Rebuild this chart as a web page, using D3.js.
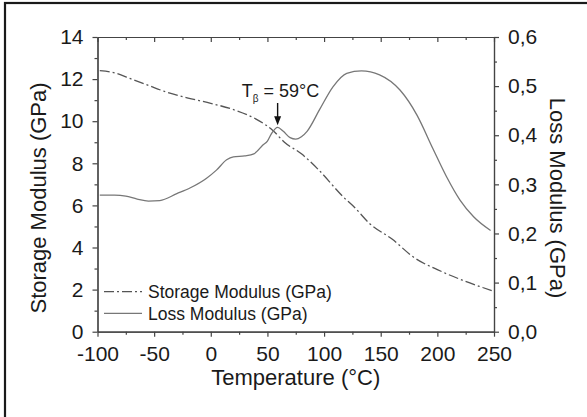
<!DOCTYPE html>
<html lang="en">
<head>
<meta charset="utf-8">
<title>Storage and loss modulus</title>
<script src="https://d3js.org/d3.v7.min.js"></script>
<style>
body { margin: 0; background: #fff; }
text { font-family: "Liberation Sans", Arial, sans-serif; fill: #1a1a1a; }
.axis path, .axis line { stroke: #444; stroke-width: 1.2; }
.axis text { font-size: 21px; }
</style>
</head>
<body>
<div id="chart"></div>
<script>

var w = 587;
var h = 417;

// storage modulus (GPa), left axis
var storageT   = [-98, -85, -70, -55, -40, -20, 0, 20, 40, 55, 65, 80, 95, 117, 127, 140, 160, 180, 200, 222, 240, 248];
var storageGPa = [12.4, 12.3, 12.0, 11.7, 11.4, 11.1, 10.85, 10.55, 10.1, 9.55, 9.0, 8.45, 7.7, 6.4, 5.9, 5.15, 4.4, 3.5, 2.95, 2.45, 2.1, 1.95];

// loss modulus (GPa), right axis
var lossT   = [-98, -85, -75, -65, -55, -45, -30, -18, -4, 5, 14, 20, 30, 38, 46, 50, 54, 59, 64, 70, 75, 80, 85, 96, 108, 120, 133, 149, 167, 182, 196, 208, 220, 232, 247];
var lossGPa = [0.278, 0.278, 0.276, 0.27, 0.266, 0.267, 0.281, 0.293, 0.312, 0.329, 0.35, 0.356, 0.358, 0.362, 0.38, 0.388, 0.405, 0.416, 0.408, 0.395, 0.392, 0.397, 0.408, 0.452, 0.499, 0.526, 0.531, 0.523, 0.492, 0.441, 0.373, 0.316, 0.268, 0.234, 0.206];

var xTicks = [-100, -50, 0, 50, 100, 150, 200, 250];
var xMinor = [-75, -25, 25, 75, 125, 175, 225];
var leftTicks = [0, 2, 4, 6, 8, 10, 12, 14];
var leftMinor = [1, 3, 5, 7, 9, 11, 13];
var rightTicks = [0, 0.1, 0.2, 0.3, 0.4, 0.5, 0.6];
var rightMinor = [0.05, 0.15, 0.25, 0.35, 0.45, 0.55];

var seriesNames = ["Storage Modulus (GPa)", "Loss Modulus (GPa)"];
var peakT = 59;

var plot = {left: 97.5, right: 494, top: 37, bottom: 331.7};

var xScale = d3.scaleLinear().domain([-100, 250]).range([plot.left, plot.right]);
var yLeft = d3.scaleLinear().domain([0, 14]).range([plot.bottom, plot.top]);
var yRight = d3.scaleLinear().domain([0, 0.6]).range([plot.bottom, plot.top]);

var svg = d3.select("#chart").append("svg")
    .attr("width", w)
    .attr("height", h);

// outer frame (cropped on right/bottom)
svg.append("rect")
    .attr("x", 5).attr("y", 3)
    .attr("width", 800).attr("height", 600)
    .attr("fill", "none")
    .attr("stroke", "#1a1a1a")
    .attr("stroke-width", 2.2);

// plain hyphen for negatives, comma decimals on the right
var intFmt = function(d){ return String(d); };
var commaFmt = function(d){ return d3.format(".1f")(d).replace(".", ","); };

// bottom axis
svg.append("g").attr("class", "axis")
    .attr("transform", "translate(0," + plot.bottom + ")")
    .call(d3.axisBottom(xScale).tickValues(xTicks).tickSize(5).tickPadding(9).tickFormat(intFmt).tickSizeOuter(0));
svg.append("g").attr("class", "axis")
    .attr("transform", "translate(0," + plot.bottom + ")")
    .call(d3.axisBottom(xScale).tickValues(xMinor).tickSize(3).tickFormat("").tickSizeOuter(0));

// top axis, ticks pointing in
svg.append("g").attr("class", "axis")
    .attr("transform", "translate(0," + plot.top + ")")
    .call(d3.axisTop(xScale).tickValues(xTicks).tickSize(-5).tickFormat("").tickSizeOuter(0));
svg.append("g").attr("class", "axis")
    .attr("transform", "translate(0," + plot.top + ")")
    .call(d3.axisTop(xScale).tickValues(xMinor).tickSize(-3).tickFormat("").tickSizeOuter(0));

// left axis
svg.append("g").attr("class", "axis")
    .attr("transform", "translate(" + plot.left + ",0)")
    .call(d3.axisLeft(yLeft).tickValues(leftTicks).tickSize(5).tickPadding(9).tickFormat(intFmt).tickSizeOuter(0));
svg.append("g").attr("class", "axis")
    .attr("transform", "translate(" + plot.left + ",0)")
    .call(d3.axisLeft(yLeft).tickValues(leftMinor).tickSize(3).tickFormat("").tickSizeOuter(0));

// right axis
svg.append("g").attr("class", "axis")
    .attr("transform", "translate(" + plot.right + ",0)")
    .call(d3.axisRight(yRight).tickValues(rightTicks).tickSize(5).tickPadding(9).tickFormat(commaFmt).tickSizeOuter(0));
svg.append("g").attr("class", "axis")
    .attr("transform", "translate(" + plot.right + ",0)")
    .call(d3.axisRight(yRight).tickValues(rightMinor).tickSize(3).tickFormat("").tickSizeOuter(0));

// axis titles
svg.append("text")
    .attr("x", (plot.left + plot.right) / 2)
    .attr("y", 385)
    .attr("text-anchor", "middle")
    .style("font-size", "22px")
    .text("Temperature (°C)");

svg.append("text")
    .attr("transform", "translate(46,198) rotate(-90)")
    .attr("text-anchor", "middle")
    .style("font-size", "22px")
    .text("Storage Modulus (GPa)");

svg.append("text")
    .attr("transform", "translate(550,198) rotate(90)")
    .attr("text-anchor", "middle")
    .style("font-size", "22px")
    .text("Loss Modulus (GPa)");

// curves
var storageData = storageT.map(function(t, i){ return {t: t, v: storageGPa[i]}; });
var lossData = lossT.map(function(t, i){ return {t: t, v: lossGPa[i]}; });

var storageLine = d3.line()
    .x(function(d){ return xScale(d.t); })
    .y(function(d){ return yLeft(d.v); })
    .curve(d3.curveMonotoneX);

var lossLine = d3.line()
    .x(function(d){ return xScale(d.t); })
    .y(function(d){ return yRight(d.v); })
    .curve(d3.curveMonotoneX);

svg.append("path")
    .datum(storageData)
    .attr("d", storageLine)
    .attr("fill", "none")
    .attr("stroke", "#555")
    .attr("stroke-width", 1.3)
    .attr("stroke-dasharray", "10,3,2,3");

svg.append("path")
    .datum(lossData)
    .attr("d", lossLine)
    .attr("fill", "none")
    .attr("stroke", "#777")
    .attr("stroke-width", 1.3);

// annotation T_beta
var ann = svg.append("text")
    .attr("x", 241.7)
    .attr("y", 96.5)
    .style("font-size", "18px");
ann.append("tspan").text("T");
ann.append("tspan").attr("dy", 5).style("font-size", "10px").text("β");
ann.append("tspan").attr("dy", -5).text(" = 59°C");

var peakY = yRight(0.416);
svg.append("line")
    .attr("x1", xScale(peakT)).attr("x2", xScale(peakT))
    .attr("y1", 103).attr("y2", peakY - 8)
    .attr("stroke", "#111").attr("stroke-width", 1.4);
svg.append("path")
    .attr("d", "M" + (xScale(peakT) - 3.5) + "," + (peakY - 11) +
               "L" + (xScale(peakT) + 3.5) + "," + (peakY - 11) +
               "L" + xScale(peakT) + "," + (peakY - 2) + "Z")
    .attr("fill", "#111");

// legend
var legendRows = [{y: 291.7, dash: "10,3,2,3", color: "#555"}, {y: 313.3, dash: null, color: "#777"}];
legendRows.forEach(function(r, i){
    svg.append("line")
        .attr("x1", 104).attr("x2", 142)
        .attr("y1", r.y).attr("y2", r.y)
        .attr("stroke", r.color)
        .attr("stroke-width", 1.3)
        .attr("stroke-dasharray", r.dash);
    svg.append("text")
        .attr("x", 148)
        .attr("y", r.y + 6.3)
        .style("font-size", "17.5px")
        .text(seriesNames[i]);
});

</script>
</body>
</html>
